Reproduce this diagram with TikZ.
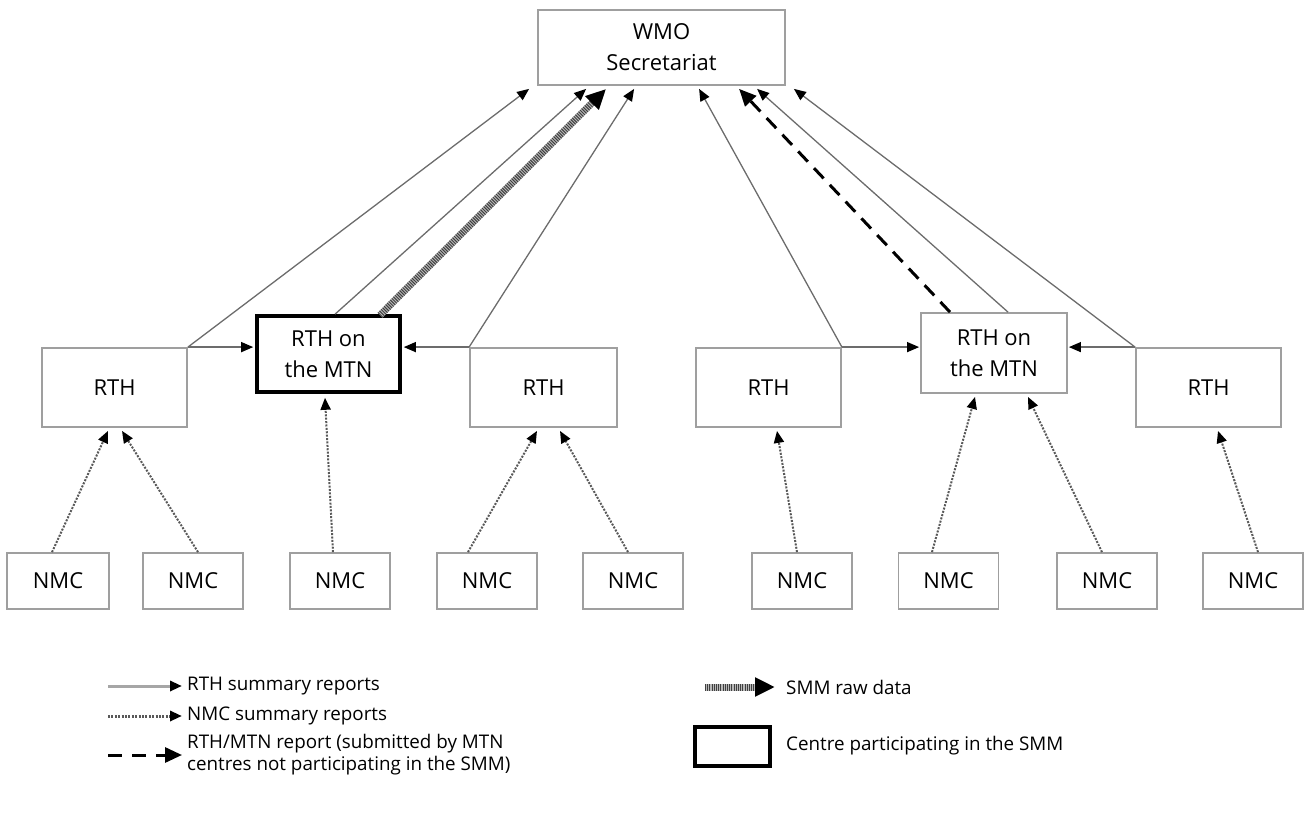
\documentclass[tikz,border=0pt]{standalone}
\usepackage{fontspec}
\setmainfont{Open Sans}
\usetikzlibrary{arrows.meta,calc}
\begin{document}
\begin{tikzpicture}[x=1pt,y=-1pt,
  box/.style={draw=gray!75, line width=1.8pt, fill=white, inner sep=0pt, align=center,
    font=\fontsize{22}{31}\selectfont},
  smmbox/.style={box, draw=black, line width=3.6pt},
  rthbox/.style={box, minimum width=145pt, minimum height=79pt},
  nmcbox/.style={box, minimum width=100pt, minimum height=56pt},
  tipS/.style={-{Triangle[length=12pt,width=10pt,color=black]}},
  rthline/.style={draw=gray!85!black, line width=1.3pt, tipS},
  nmcline/.style={draw=gray!70!black, line width=2pt, dash pattern=on 2pt off 1.4pt, tipS},
  dashline/.style={draw=black, line width=3pt, dash pattern=on 14pt off 9pt,
    -{Triangle[length=17pt,width=15pt,color=black]}},
  smmbase/.style={draw=gray!55, line width=7pt, shorten >=16pt},
  smmline/.style={draw=black!75, line width=7pt, dash pattern=on 1pt off 1.2pt,
    -{Triangle[length=20pt,width=18pt,color=black]}},
  legtext/.style={anchor=west, inner sep=0pt, align=left, font=\fontsize{18.8}{22}\selectfont},
  legbase/.style={draw=gray!70, line width=3pt, -{Triangle[length=12pt,width=10pt,color=black]}}
]
\useasboundingbox (0,0) rectangle (1310,816);

% top
\node[box, minimum width=247pt, minimum height=75pt] (wmo) at (661.5,47.5) {WMO\\Secretariat};

% RTH level
\node[rthbox] (rth1) at (114.5,387.5) {RTH};
\node[smmbox, minimum width=143pt, minimum height=76pt] (mtn1) at (328.5,354) {RTH on\\the MTN};
\node[rthbox, minimum width=147pt] (rth3) at (543.5,387.5) {RTH};
\node[rthbox] (rth4) at (768.5,387.5) {RTH};
\node[box, minimum width=146pt, minimum height=80pt] (mtn2) at (994,353) {RTH on\\the MTN};
\node[rthbox] (rth6) at (1208.5,387.5) {RTH};

% NMC level
\node[nmcbox, minimum width=102pt] (n1) at (58,581) {NMC};
\node[nmcbox] (n2) at (193,581) {NMC};
\node[nmcbox] (n3) at (340,581) {NMC};
\node[nmcbox] (n4) at (487,581) {NMC};
\node[nmcbox] (n5) at (633,581) {NMC};
\node[nmcbox] (n6) at (802,581) {NMC};
\node[nmcbox] (n7) at (948.5,581) {NMC};
\node[nmcbox] (n8) at (1107,581) {NMC};
\node[nmcbox] (n9) at (1253,581) {NMC};

% RTH -> WMO
\draw[rthline] (rth1.north east) -- ([xshift=-8pt,yshift=-3pt]wmo.south west);
\draw[rthline] ([xshift=6.5pt]mtn1.north) -- ([xshift=49pt,yshift=-3pt]wmo.south west);
\draw[smmbase] ([xshift=51.5pt,yshift=-1pt]mtn1.north) -- ([xshift=69pt,yshift=-3pt]wmo.south west);
\draw[smmline] ([xshift=51.5pt,yshift=-1pt]mtn1.north) -- ([xshift=69pt,yshift=-3pt]wmo.south west);
\draw[rthline] (rth3.north west) -- ([xshift=97pt,yshift=-3pt]wmo.south west);
\draw[rthline] (rth4.north east) -- ([xshift=162pt,yshift=-3pt]wmo.south west);
\draw[dashline] ([xshift=-44pt]mtn2.north) -- ([xshift=202pt,yshift=-3pt]wmo.south west);
\draw[rthline] ([xshift=14pt]mtn2.north) -- ([xshift=220pt,yshift=-3pt]wmo.south west);
\draw[rthline] (rth6.north west) -- ([xshift=8pt,yshift=-3pt]wmo.south east);

% RTH -> RTH on the MTN
\draw[rthline, shorten >=2pt] (rth1.north east) -- (rth1.north east -| mtn1.west);
\draw[rthline, shorten >=2pt] (rth3.north west) -- (rth3.north west -| mtn1.east);
\draw[rthline, shorten >=1pt] (rth4.north east) -- (rth4.north east -| mtn2.west);
\draw[rthline, shorten >=1pt] (rth6.north west) -- (rth6.north west -| mtn2.east);

% NMC -> RTH
\draw[nmcline] ([xshift=-6pt]n1.north) -- ([xshift=-6.5pt,yshift=-3pt]rth1.south);
\draw[nmcline] ([xshift=5pt]n2.north) -- ([xshift=7.5pt,yshift=-3pt]rth1.south);
\draw[nmcline] ([xshift=-7pt]n3.north) -- ([xshift=-3.5pt,yshift=-4pt]mtn1.south);
\draw[nmcline] ([xshift=-19pt]n4.north) -- ([xshift=-6.5pt,yshift=-3pt]rth3.south);
\draw[nmcline] ([xshift=-5pt]n5.north) -- ([xshift=16.5pt,yshift=-3pt]rth3.south);
\draw[nmcline] ([xshift=-5pt]n6.north) -- ([xshift=8.5pt,yshift=-3pt]rth4.south);
\draw[nmcline] ([xshift=-16.5pt]n7.north) -- ([xshift=-19pt,yshift=-3pt]mtn2.south);
\draw[nmcline] ([xshift=-5pt]n8.north) -- ([xshift=34pt,yshift=-3pt]mtn2.south);
\draw[nmcline] ([xshift=5pt]n9.north) -- ([xshift=9.5pt,yshift=-3pt]rth6.south);

% legend
\coordinate (la1) at (108,686); \coordinate (lb1) at (182,686);
\draw[legbase] (la1) -- (lb1);
\node[legtext] (lt1) at (187,686) {RTH summary reports};
\coordinate (la2) at (108,716); \coordinate (lb2) at (182,716);
\draw[nmcline, line width=3pt] (la2) -- (lb2);
\node[legtext] (lt2) at (187,716) {NMC summary reports};
\coordinate (la3) at (108,755); \coordinate (lb3) at (182,755);
\draw[dashline, dash pattern=on 14pt off 10pt] (la3) -- (lb3);
\node[legtext] (lt3) at (187,755) {RTH/MTN report (submitted by MTN\\centres not participating in the SMM)};
\coordinate (la4) at (705,687); \coordinate (lb4) at (775,687);
\draw[smmbase] (la4) -- (lb4);
\draw[smmline] (la4) -- (lb4);
\node[legtext] (lt4) at (786,687) {SMM raw data};
\node[smmbox, minimum width=75pt, minimum height=39pt] (lbox) at (732.5,746.5) {};
\node[legtext] (lt5) at (786,746) {Centre participating in the SMM};
\end{tikzpicture}
\end{document}
